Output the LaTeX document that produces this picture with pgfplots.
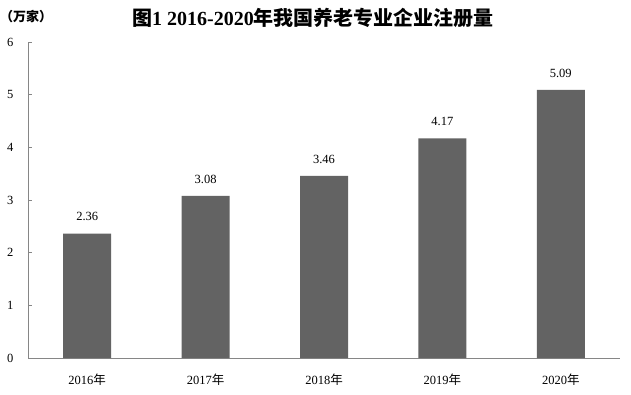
\documentclass[border=0pt]{standalone}
\usepackage{fontspec}
\setmainfont{Liberation Serif}
\newfontfamily\cjk{Noto Sans CJK SC}
\usepackage{pgfplots}
\pgfplotsset{compat=1.18}
\definecolor{barc}{HTML}{636363}
\definecolor{axc}{HTML}{868686}
\begin{document}
\begin{tikzpicture}
\path[use as bounding box] (0,0) rectangle (631pt,394pt);
\begin{axis}[
  at={(28pt,36pt)}, anchor=south west,
  scale only axis, width=592pt, height=316pt,
  xmin=-0.5, xmax=4.5, ymin=0, ymax=6,
  axis x line*=bottom, axis y line*=left,
  axis line style={axc, -, line width=0.8pt},
  ytick={0,1,...,6},
  xtick={0,1,2,3,4},
  xticklabels={2016{\cjk 年},2017{\cjk 年},2018{\cjk 年},2019{\cjk 年},2020{\cjk 年}},
  x tick style={draw=none},
  extra x ticks={-0.5,0.5,1.5,2.5,3.5,4.5},
  extra x tick labels={},
  extra x tick style={tick style={draw=axc, line width=0.8pt}, major tick length=4pt, tick align=inside},
  y tick style={draw=axc, line width=0.8pt},
  major tick length=4pt, tick align=inside,
  tick label style={font=\fontsize{12.5}{12.5}\selectfont, black},
  /pgf/number format/assume math mode=true,
  yticklabel style={xshift=-11pt},
  xticklabel style={yshift=-8pt},
  ybar, bar width=48pt,
  nodes near coords,
  nodes near coords style={font=\fontsize{12.5}{12.5}\selectfont, anchor=south, yshift=9pt, /pgf/number format/fixed, /pgf/number format/precision=2, /pgf/number format/fixed zerofill},
]
\addplot[fill=barc, draw=none] coordinates {(0,2.36) (1,3.08) (2,3.46) (3,4.17) (4,5.09)};
\end{axis}
\node[font=\fontsize{20}{20}\selectfont\bfseries] at (313pt,376pt) {{\cjk 图}1 2016-2020{\cjk 年我国养老专业企业注册量}};
\node[font=\fontsize{13}{13}\selectfont\bfseries, anchor=west, inner sep=0pt] at (0pt,377pt) {\cjk （万家）};
\end{tikzpicture}
\end{document}
